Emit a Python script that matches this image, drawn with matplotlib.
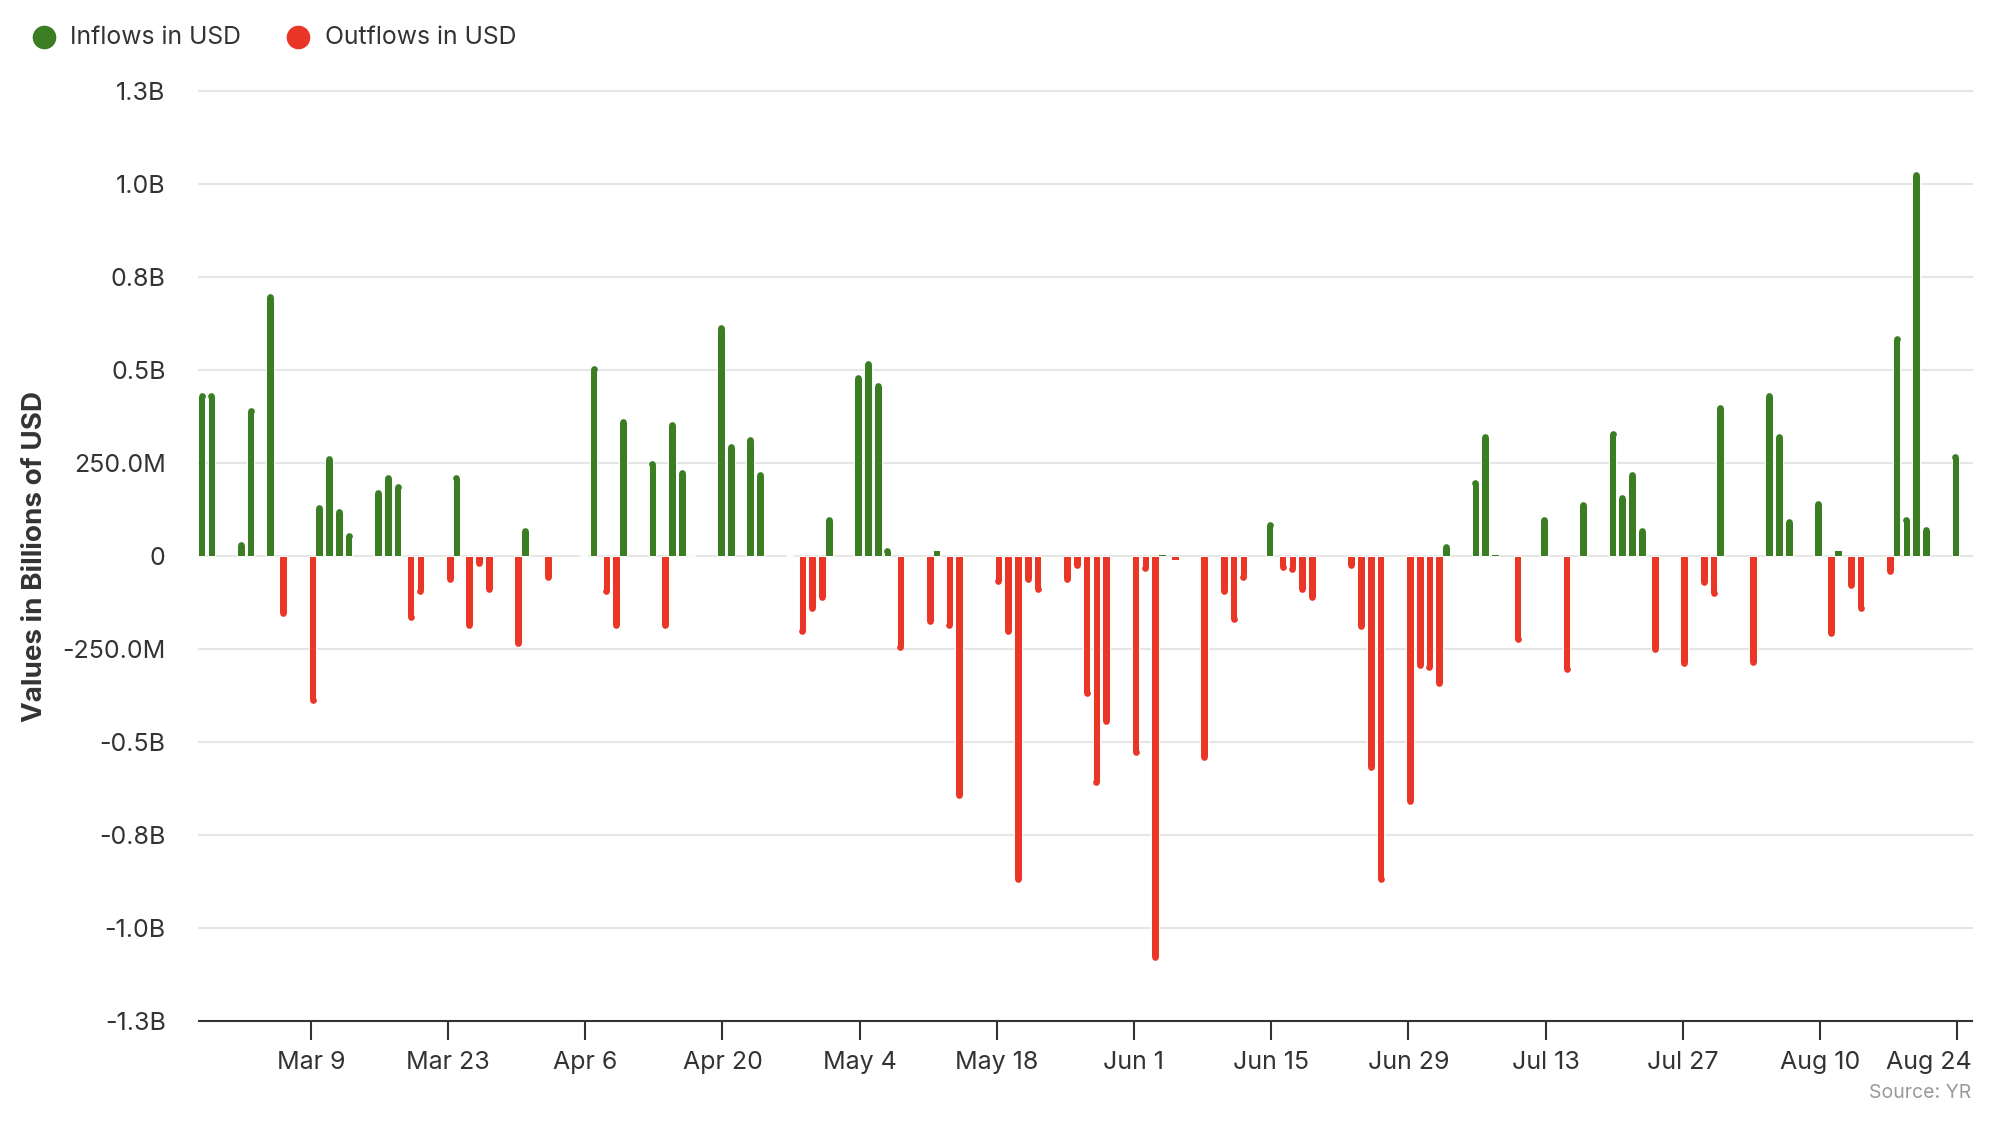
import math
import matplotlib
matplotlib.use("Agg")
import matplotlib.pyplot as plt
import matplotlib.dates as mdates
from matplotlib.lines import Line2D
from matplotlib.transforms import ScaledTranslation
import numpy as np
import pandas as pd

plt.rcParams['font.family'] = ['Inter', 'DejaVu Sans']

# ---------------- data (millions of USD) ----------------
inflow_dates = [
    "2024-02-27", "2024-02-28", "2024-03-02", "2024-03-03", "2024-03-05",
    "2024-03-10", "2024-03-11", "2024-03-12", "2024-03-13", "2024-03-16",
    "2024-03-17", "2024-03-18", "2024-03-24", "2024-03-31", "2024-04-06",
    "2024-04-07", "2024-04-10", "2024-04-13", "2024-04-15", "2024-04-16",
    "2024-04-17", "2024-04-20", "2024-04-21", "2024-04-23", "2024-04-24",
    "2024-04-27", "2024-05-01", "2024-05-04", "2024-05-05", "2024-05-06",
    "2024-05-07", "2024-05-12", "2024-06-04", "2024-06-15", "2024-07-03",
    "2024-07-06", "2024-07-07", "2024-07-08", "2024-07-13", "2024-07-17",
    "2024-07-20", "2024-07-21", "2024-07-22", "2024-07-23", "2024-07-31",
    "2024-08-05", "2024-08-06", "2024-08-07", "2024-08-10", "2024-08-12",
    "2024-08-18", "2024-08-19", "2024-08-20", "2024-08-21", "2024-08-24",
]
inflow_values = [
    440, 440, 38, 398, 705,
    139, 270, 128, 63, 177,
    219, 194, 219, 77, 2,
    511, 370, 257, 360, 231,
    2, 623, 301, 322, 226,
    2, 107, 488, 526, 467,
    22, 15, 6, 91, 32,
    204, 328, 6, 107, 145,
    338, 166, 226, 75, 408,
    440, 328, 101, 150, 15,
    591, 107, 1032, 80, 274,
]

outflow_dates = [
    "2024-03-06", "2024-03-09", "2024-03-19", "2024-03-20", "2024-03-23",
    "2024-03-25", "2024-03-26", "2024-03-27", "2024-03-30", "2024-04-02",
    "2024-04-08", "2024-04-09", "2024-04-14", "2024-04-28", "2024-04-29",
    "2024-04-30", "2024-05-08", "2024-05-11", "2024-05-13", "2024-05-14",
    "2024-05-18", "2024-05-19", "2024-05-20", "2024-05-21", "2024-05-22",
    "2024-05-25", "2024-05-26", "2024-05-27", "2024-05-28", "2024-05-29",
    "2024-06-01", "2024-06-02", "2024-06-03", "2024-06-05", "2024-06-08",
    "2024-06-10", "2024-06-11", "2024-06-12", "2024-06-16", "2024-06-17",
    "2024-06-18", "2024-06-19", "2024-06-23", "2024-06-24", "2024-06-25",
    "2024-06-26", "2024-06-29", "2024-06-30", "2024-07-01", "2024-07-02",
    "2024-07-10", "2024-07-15", "2024-07-24", "2024-07-27", "2024-07-29",
    "2024-07-30", "2024-08-03", "2024-08-11", "2024-08-13", "2024-08-14",
    "2024-08-17",
]
outflow_values = [
    -162, -397, -173, -103, -72,
    -194, -28, -98, -242, -66,
    -103, -194, -194, -210, -150,
    -118, -253, -183, -194, -651,
    -76, -210, -876, -70, -97,
    -70, -32, -376, -617, -453,
    -537, -42, -1086, -11, -549,
    -103, -179, -65, -38, -44,
    -97, -118, -32, -198, -577,
    -876, -667, -302, -308, -350,
    -232, -312, -259, -297, -80,
    -108, -293, -215, -86, -150,
    -48,
]

x_tick_dates = ["2024-03-09", "2024-03-23", "2024-04-06", "2024-04-20",
                "2024-05-04", "2024-05-18", "2024-06-01", "2024-06-15",
                "2024-06-29", "2024-07-13", "2024-07-27", "2024-08-10",
                "2024-08-24"]
y_ticks = [-1250, -1000, -750, -500, -250, 0, 250, 500, 750, 1000, 1250]

series_names = ["Inflows in USD", "Outflows in USD"]
source_text = "Source: YR"
y_title = "Values in Billions of USD"

# ---------------- style ----------------
GREEN = "#3a7d23"
RED = "#ea3627"
TEXT = "#333333"
GRID = "#e6e6e6"

W, H = 1990, 1134
DPI = 100
fig = plt.figure(figsize=(W / DPI, H / DPI), dpi=DPI)
AX_L, AX_R, AX_T, AX_B = 199, 1972, 91, 1021
ax = fig.add_axes([AX_L / W, 1 - AX_B / H, (AX_R - AX_L) / W, (AX_B - AX_T) / H])

ax.set_ylim(y_ticks[0], y_ticks[-1])
x0 = mdates.date2num(pd.Timestamp(inflow_dates[0])) - 0.43
x1 = mdates.date2num(pd.Timestamp(inflow_dates[-1])) + 1.53
ax.set_xlim(x0, x1)

BAR_W = 0.78  # in days
EDGE_LW = 0.7  # white column border (pt)
px_per_day = (AX_R - AX_L) / (x1 - x0)
px_per_unit_y = (AX_B - AX_T) / (y_ticks[-1] - y_ticks[0])
cap_d_px = BAR_W * px_per_day - EDGE_LW * DPI / 72   # coloured width of a column
cap_r_y = (cap_d_px / 2) / px_per_unit_y             # cap radius in data units
cap_size_pt = cap_d_px * 72 / DPI


def draw_series(dates, values, offset, color):
    xs = mdates.date2num(pd.to_datetime(dates)) + offset
    vals = np.asarray(values, dtype=float)
    sign = np.sign(vals)
    rounded = np.abs(vals) > 2 * cap_r_y
    heights = np.where(rounded, vals - sign * cap_r_y, vals)
    ax.bar(xs, heights, width=BAR_W, color=color, edgecolor="white",
           linewidth=EDGE_LW, zorder=3)
    ax.scatter(xs[rounded], heights[rounded], s=cap_size_pt ** 2, color=color,
               linewidths=0, zorder=4, clip_on=False)


draw_series(inflow_dates, inflow_values, -0.16, GREEN)
draw_series(outflow_dates, outflow_values, 0.16, RED)

for v in y_ticks[1:]:
    ax.axhline(v, color=GRID, linewidth=1.5, zorder=0, clip_on=False)


def fmt_val(v):
    if v == 0:
        return "0"
    s = "-" if v < 0 else ""
    a = abs(v)
    if a >= 500:
        b = math.floor(a / 100 + 0.5) / 10
        return f"{s}{b:.1f}B"
    return f"{s}{a:.1f}M"


ax.set_yticks(y_ticks)
ax.set_yticklabels([fmt_val(v) for v in y_ticks])
tick_nums = mdates.date2num(pd.to_datetime(x_tick_dates))
ax.set_xticks(tick_nums)
ax.set_xticklabels([pd.Timestamp(d).strftime("%b ") + str(pd.Timestamp(d).day)
                    for d in x_tick_dates])

for side in ["top", "right", "left"]:
    ax.spines[side].set_visible(False)
ax.spines["bottom"].set_color(TEXT)
ax.spines["bottom"].set_linewidth(1.5)
ax.spines["bottom"].set_zorder(5)

ax.tick_params(axis="x", length=13.5, width=1.5, color=TEXT, pad=8,
               labelsize=18, labelcolor=TEXT)
ax.tick_params(axis="y", length=0, pad=24, labelsize=18, labelcolor=TEXT)

# keep the last x label inside the plot area (as the reference does)
last_lbl = ax.get_xticklabels()[-1]
last_lbl.set_horizontalalignment("right")
shift_px = AX_R - (AX_L + (tick_nums[-1] - x0) * px_per_day)
last_lbl.set_transform(last_lbl.get_transform() +
                       ScaledTranslation(shift_px / DPI, 0, fig.dpi_scale_trans))

fig.text(35.5 / W, 1 - 556 / H, y_title, rotation=90, ha="center", va="center",
         fontsize=20, fontweight="bold", color=TEXT)

# legend
for (cx, tx), name, col in zip([(44, 70), (298, 325)], series_names, [GREEN, RED]):
    fig.add_artist(Line2D([cx / W], [1 - 37 / H], marker="o", markersize=16,
                          color=col, linestyle="none", transform=fig.transFigure))
    fig.text(tx / W, 1 - 37 / H, name, ha="left", va="center", fontsize=17.8,
             color=TEXT)

fig.text(1971 / W, 1 - 1093 / H, source_text, ha="right", va="center",
         fontsize=14, color="#999999")

fig.savefig("out.png", dpi=DPI, facecolor="white")
